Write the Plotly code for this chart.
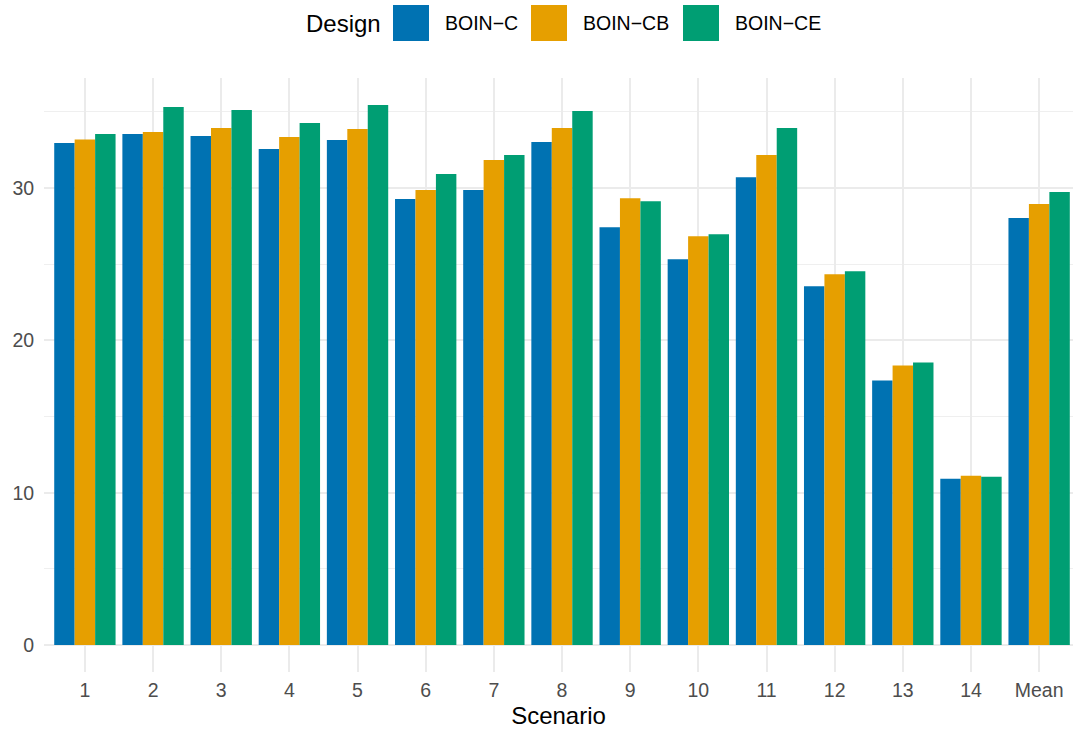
import plotly.graph_objects as go

scenarios = ["1", "2", "3", "4", "5", "6", "7", "8", "9", "10", "11", "12", "13", "14", "Mean"]
boin_c  = [32.96, 33.55, 33.42, 32.57, 33.16, 29.28, 29.87, 33.03, 27.43, 25.33, 30.72, 23.55, 17.37, 10.92, 28.03]
boin_cb = [33.20, 33.68, 33.95, 33.36, 33.88, 29.87, 31.84, 33.95, 29.34, 26.84, 32.17, 24.34, 18.36, 11.12, 28.95]
boin_ce = [33.55, 35.33, 35.13, 34.28, 35.46, 30.92, 32.17, 35.07, 29.14, 26.97, 33.95, 24.54, 18.55, 11.05, 29.74]

series_names = ["BOIN\u2212C", "BOIN\u2212CB", "BOIN\u2212CE"]
series_vals = [boin_c, boin_cb, boin_ce]
colors = ["#0072B2", "#E69F00", "#009E73"]

FONT = "Liberation Sans, Arial, Helvetica, sans-serif"
W, H = 1073, 729
ML, MR, MT, MB = 44, 0, 78, 57
PW = W - ML - MR
PH = H - MT - MB

fig = go.Figure()
for name, vals, col in zip(series_names, series_vals, colors):
    fig.add_trace(go.Bar(x=scenarios, y=vals, name=name, marker=dict(color=col, line=dict(width=0)),
                         showlegend=False))

fig.update_layout(
    width=W, height=H,
    margin=dict(l=ML, r=MR, t=MT, b=MB, pad=0, autoexpand=False),
    paper_bgcolor="white", plot_bgcolor="white",
    barmode="group", bargap=0.1, bargroupgap=0.0,
    font=dict(family=FONT, color="#000000"),
    showlegend=False,
)

fig.update_xaxes(
    type="category", range=[-0.6, -0.6 + PW / 68.16], automargin=False,
    showgrid=True, gridcolor="#EBEBEB", gridwidth=1.7,
    zeroline=False, showline=False,
    ticks="outside", ticklen=1, tickcolor="rgba(0,0,0,0)",
    tickfont=dict(family=FONT, size=19.5, color="#4D4D4D"),
    title=dict(text="Scenario", font=dict(family=FONT, size=24, color="#000000"), standoff=9),
)
fig.update_yaxes(
    range=[-1.773, 37.23], tick0=0, dtick=10, automargin=False,
    showgrid=True, gridcolor="#EBEBEB", gridwidth=2,
    minor=dict(dtick=5, tick0=0, showgrid=True, gridcolor="#EFEFEF", gridwidth=1),
    zeroline=False, showline=False,
    ticks="outside", ticklen=5, tickcolor="rgba(0,0,0,0)",
    tickfont=dict(family=FONT, size=19.5, color="#4D4D4D"),
)

# custom legend (ggplot style, top)
def px2paper_x(px):
    return (px - ML) / PW

def px2paper_y(py):
    return (H - MB - py) / PH

fig.add_annotation(text="Design", x=px2paper_x(304), y=px2paper_y(23), xref="paper", yref="paper",
                   xanchor="left", yanchor="middle", showarrow=False,
                   font=dict(family=FONT, size=24, color="#000000"))
key_x = [393, 531, 683]
label_x = [443, 581, 733]
for kx, lx, name, col in zip(key_x, label_x, series_names, colors):
    fig.add_shape(type="rect", xref="paper", yref="paper",
                  x0=px2paper_x(kx), x1=px2paper_x(kx + 36),
                  y0=px2paper_y(41), y1=px2paper_y(5),
                  fillcolor=col, line=dict(width=0))
    fig.add_annotation(text=name, x=px2paper_x(lx), y=px2paper_y(23), xref="paper", yref="paper",
                       xanchor="left", yanchor="middle", showarrow=False,
                       font=dict(family=FONT, size=19.5, color="#000000"))

fig.write_html("out.html", config={"displayModeBar": False},
               post_script="document.body.style.margin='0';document.body.style.overflow='hidden';")
